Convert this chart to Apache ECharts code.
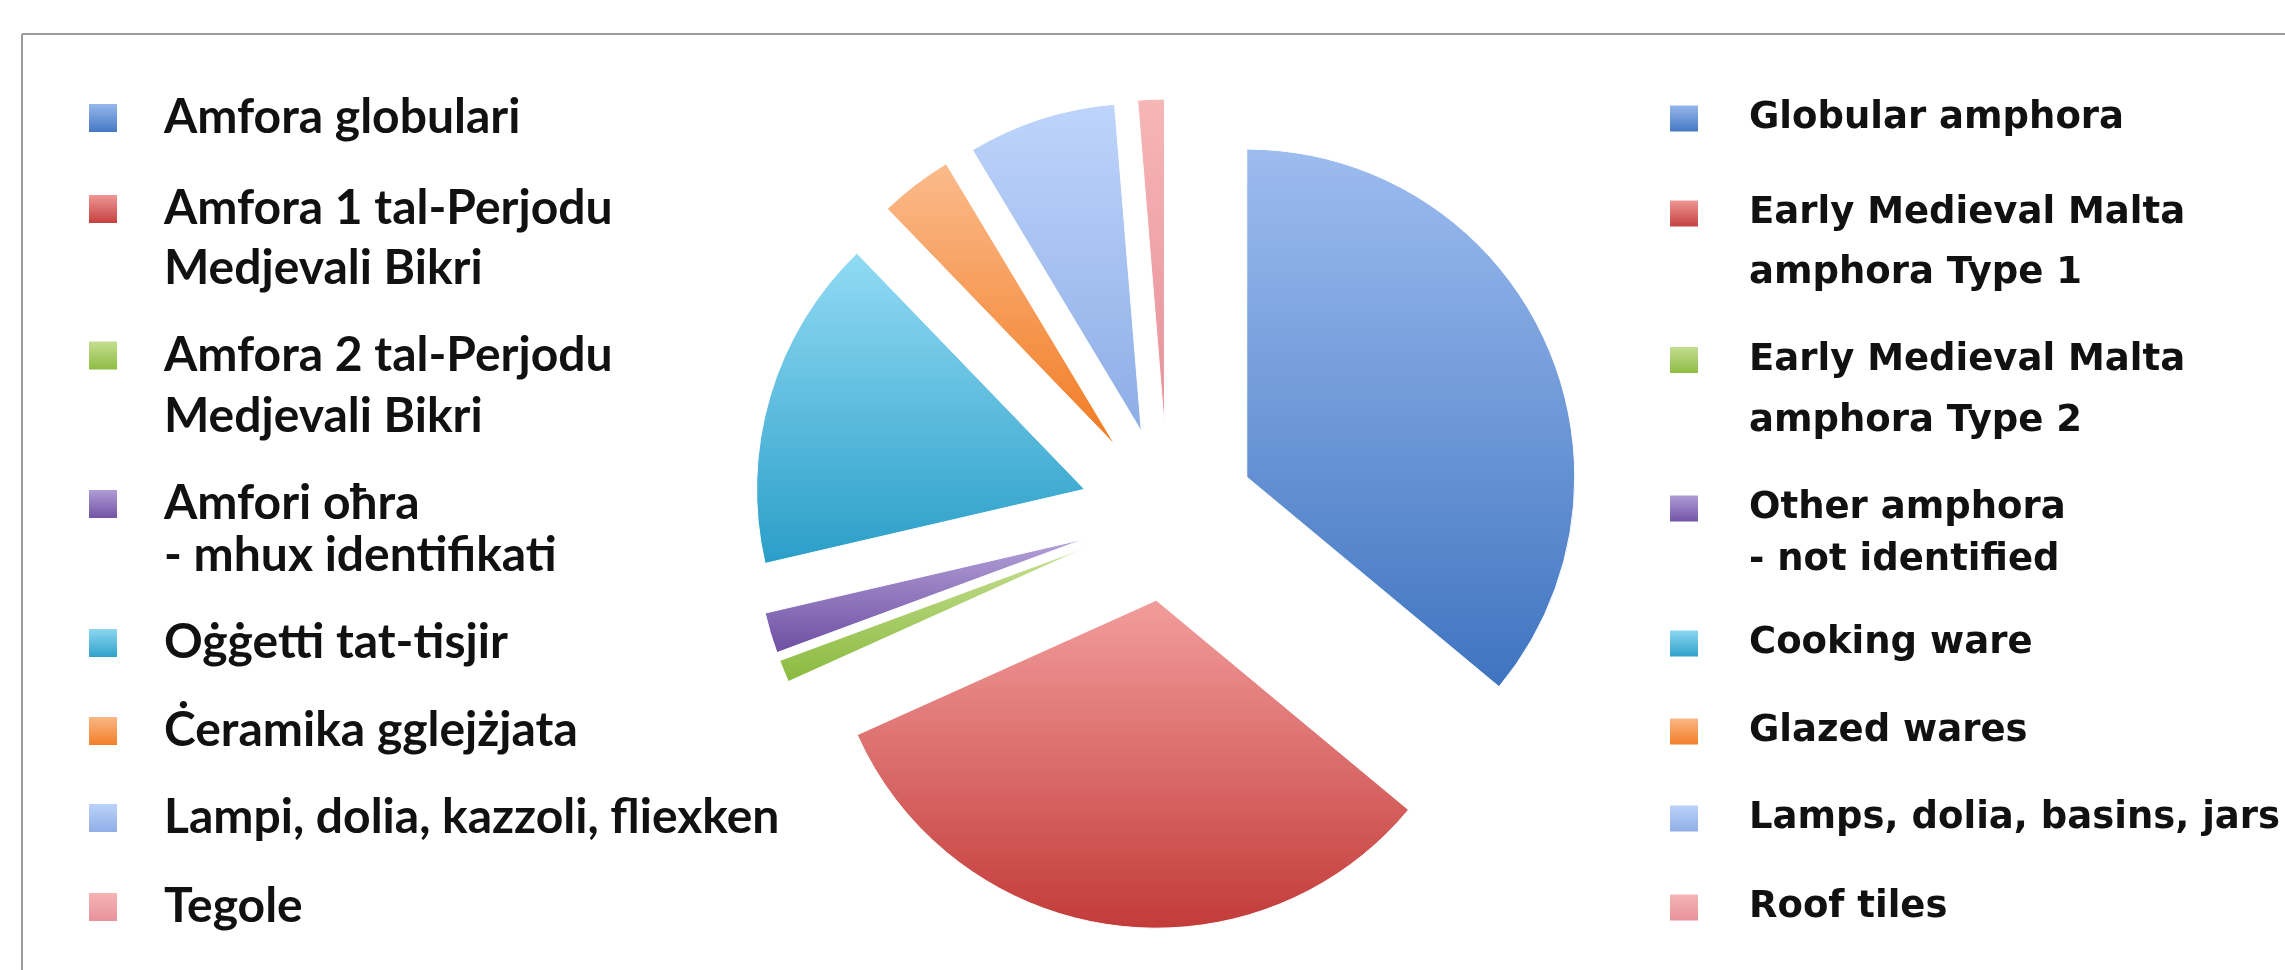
<!DOCTYPE html>
<html><head><meta charset="utf-8">
<script src="https://cdn.jsdelivr.net/npm/echarts@6/dist/echarts.min.js"></script>
<style>html,body{margin:0;padding:0;background:#fff;}#c{width:2285px;height:970px;}</style>
</head><body><div id="c"></div>
<script>
// ---- data ----
const categoriesMt = ['Amfora globulari', 'Amfora 1 tal-Perjodu\nMedjevali Bikri', 'Amfora 2 tal-Perjodu\nMedjevali Bikri', 'Amfori oħra\n- mhux identifikati', 'Oġġetti tat-tisjir', 'Ċeramika gglejżjata', 'Lampi, dolia, kazzoli, fliexken', 'Tegole'];
const categoriesEn = ['Globular amphora', 'Early Medieval Malta\namphora Type 1', 'Early Medieval Malta\namphora Type 2', 'Other amphora\n- not identified', 'Cooking ware', 'Glazed wares', 'Lamps, dolia, basins, jars', 'Roof tiles'];
const shares = [36.0, 32.2, 1.1, 2.0, 16.4, 3.6, 7.3, 1.3];

// ---- styles ----
const gradTop = ['#9dbcef', '#f29d9b', '#c8e096', '#b4a2d9', '#92dbf4', '#fbbb8c', '#bed4fb', '#f7b6b6'];
const gradBottom = ['#3f74c0', '#c23b39', '#8aba3e', '#6e4ea2', '#2a9ec8', '#f17b22', '#8dade6', '#e6909a'];
const rowCenters = [118, 203, 349, 502, 643, 731, 818, 907];
const rowLineHeights = [40, 60, 61, 52, 40, 40, 40, 40];

const chart = echarts.init(document.getElementById('c'), null, {renderer: 'canvas'});

function grad(i) {
  return new echarts.graphic.LinearGradient(0, 0, 0, 1, [
    {offset: 0, color: gradTop[i]}, {offset: 1, color: gradBottom[i]}
  ]);
}

const sides = [
  {left: 87, iw: 30, ih: 30, font: 'Lato', size: 48, padLeft: 41, labels: categoriesMt, half: 24},
  {left: 1668, iw: 30, ih: 28, font: 'DejaVu Sans', size: 37, padLeft: 45, labels: categoriesEn, half: 19.5}
];

const legends = [];
sides.forEach(function (s) {
  categoriesMt.forEach(function (name, i) {
    const multi = name.indexOf('\n') >= 0;
    const L = rowLineHeights[i];
    const top = multi ? rowCenters[i] - L - s.half : rowCenters[i] - s.half;
    legends.push({
      data: [name],
      orient: 'vertical',
      left: s.left,
      top: top,
      padding: 0,
      icon: 'rect',
      itemWidth: s.iw,
      itemHeight: s.ih,
      selectedMode: false,
      formatter: function (n) {
        const t = s.labels[categoriesMt.indexOf(n)];
        return multi ? '\n' + t : t;
      },
      textStyle: {
        fontFamily: s.font,
        fontSize: s.size,
        fontWeight: 'bold',
        color: '#111111',
        lineHeight: L,
        padding: [0, 0, 0, s.padLeft]
      }
    });
  });
});

const option = {
  backgroundColor: '#ffffff',
  animation: false,
  legend: legends,
  graphic: [
    {type: 'line', shape: {x1: 22, y1: 34, x2: 2285, y2: 34}, style: {stroke: '#9c9c9c', lineWidth: 2}},
    {type: 'line', shape: {x1: 22, y1: 34, x2: 22, y2: 970}, style: {stroke: '#9c9c9c', lineWidth: 2}}
  ],
  series: [{
    type: 'pie',
    center: [1168, 514],
    radius: [0, 328],
    startAngle: 90,
    clockwise: true,
    selectedMode: 'multiple',
    selectedOffset: 87,
    silent: true,
    label: {show: false},
    labelLine: {show: false},
    emphasis: {disabled: true},
    itemStyle: {borderColor: '#ffffff', borderWidth: 1},
    data: categoriesMt.map(function (n, i) {
      return {name: n, value: shares[i], selected: true, itemStyle: {color: grad(i)}};
    })
  }]
};
chart.setOption(option);
</script>
</body></html>
